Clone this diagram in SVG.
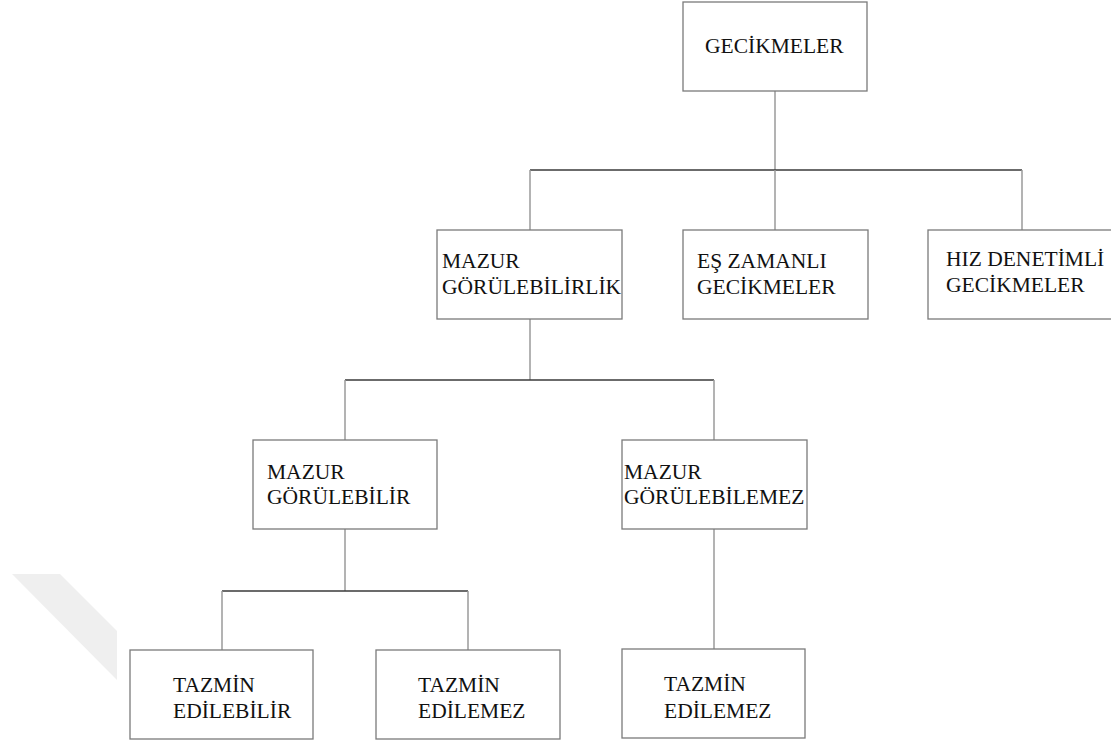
<svg xmlns="http://www.w3.org/2000/svg" width="1111" height="744" viewBox="0 0 1111 744">
<style>
.box{fill:#fff;stroke:#7a7a7a;stroke-width:1.3}
.v{stroke:#9a9a9a;stroke-width:1.5;fill:none}
.h{stroke:#3a3a3a;stroke-width:1.3;fill:none}
</style>
<rect width="1111" height="744" fill="#fff"/>
<polygon points="12,574 60,574 117,631 117,680" fill="#efefef"/>
<g id="connectors">
<line class="v" x1="775" y1="91" x2="775" y2="170"/>
<line class="h" x1="530" y1="170" x2="1022" y2="170"/>
<line class="v" x1="530" y1="170" x2="530" y2="230"/>
<line class="v" x1="775" y1="170" x2="775" y2="230"/>
<line class="v" x1="1022" y1="170" x2="1022" y2="230"/>
<line class="v" x1="530" y1="319" x2="530" y2="380"/>
<line class="h" x1="345" y1="380" x2="714" y2="380"/>
<line class="v" x1="345" y1="380" x2="345" y2="440"/>
<line class="v" x1="714" y1="380" x2="714" y2="440"/>
<line class="v" x1="345" y1="529" x2="345" y2="591"/>
<line class="h" x1="222" y1="591" x2="468" y2="591"/>
<line class="v" x1="222" y1="591" x2="222" y2="650"/>
<line class="v" x1="468" y1="591" x2="468" y2="650"/>
<line class="v" x1="714" y1="529" x2="714" y2="649"/>
</g>
<g font-family="Liberation Serif, Times New Roman, DejaVu Serif, serif" font-size="21.5" fill="#111">
<g id="n-gecikmeler">
<rect class="box" x="683" y="2" width="184" height="89"/>
<text x="705" y="53">GECİKMELER</text>
</g>
<g id="n-mazur-gorulebilirlik">
<rect class="box" x="437" y="230" width="185" height="89"/>
<text x="442" y="268">MAZUR</text>
<text x="442" y="294">GÖRÜLEBİLİRLİK</text>
</g>
<g id="n-es-zamanli">
<rect class="box" x="683" y="230" width="185" height="89"/>
<text x="697" y="268">EŞ ZAMANLI</text>
<text x="697" y="294">GECİKMELER</text>
</g>
<g id="n-hiz-denetimli">
<rect class="box" x="928" y="230" width="190" height="89"/>
<text x="946" y="266">HIZ DENETİMLİ</text>
<text x="946" y="292">GECİKMELER</text>
</g>
<g id="n-mazur-gorulebilir">
<rect class="box" x="253" y="440" width="184" height="89"/>
<text x="267" y="479">MAZUR</text>
<text x="267" y="504">GÖRÜLEBİLİR</text>
</g>
<g id="n-mazur-gorulebilemez">
<rect class="box" x="622" y="440" width="185" height="89"/>
<text x="624" y="479">MAZUR</text>
<text x="624" y="504">GÖRÜLEBİLEMEZ</text>
</g>
<g id="n-tazmin-edilebilir">
<rect class="box" x="130" y="650" width="183" height="89"/>
<text x="173" y="692">TAZMİN</text>
<text x="173" y="718">EDİLEBİLİR</text>
</g>
<g id="n-tazmin-edilemez-1">
<rect class="box" x="376" y="650" width="184" height="89"/>
<text x="418" y="692">TAZMİN</text>
<text x="418" y="718">EDİLEMEZ</text>
</g>
<g id="n-tazmin-edilemez-2">
<rect class="box" x="622" y="649" width="183" height="89"/>
<text x="664" y="691">TAZMİN</text>
<text x="664" y="718">EDİLEMEZ</text>
</g>
</g>
</svg>
